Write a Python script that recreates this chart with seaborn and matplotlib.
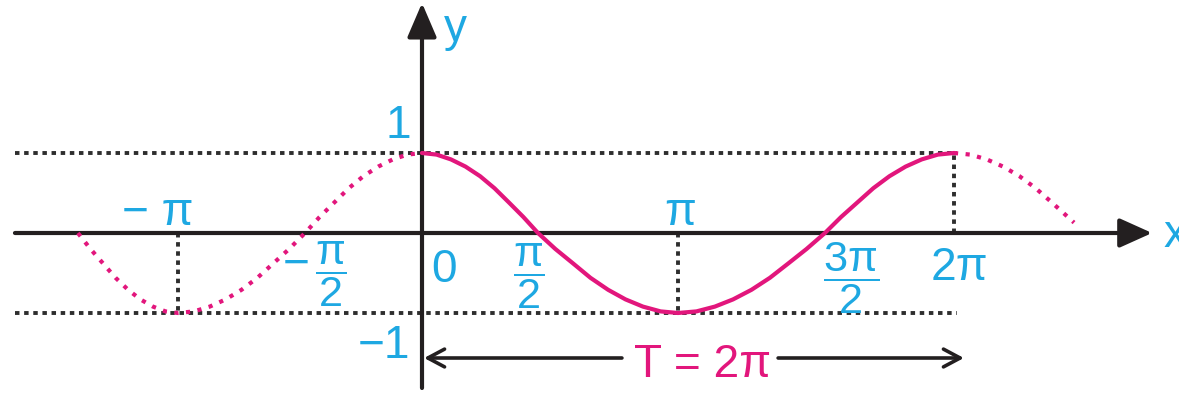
import numpy as np
import pandas as pd
import seaborn as sns
import matplotlib
matplotlib.use("Agg")
import matplotlib.pyplot as plt
from matplotlib import font_manager

# ---- data (x in units of pi) ----
solid_x = [0, .057, .113, .170, .227, .283, .340, .396, .453,
           .521, .590, .658, .727, .795, .863, .932, 1.0,
           1.072, 1.144, 1.215, 1.287, 1.359, 1.431, 1.502, 1.574,
           1.637, 1.700, 1.763, 1.826, 1.889, 1.952, 2.015, 2.078]
solid_y = [1, .98, .92, .83, .71, .56, .38, .20, 0,
           -.20, -.38, -.56, -.71, -.83, -.92, -.98, -1,
           -.98, -.92, -.83, -.71, -.56, -.38, -.20, 0,
           .20, .38, .56, .71, .83, .92, .98, 1]
left_x = [-1.344, -1.295, -1.246, -1.197, -1.148, -1.100, -1.051, -1.002, -0.953,
          -0.891, -0.829, -0.767, -0.705, -0.643, -0.581, -0.519, -0.457,
          -0.400, -0.343, -0.286, -0.229, -0.171, -0.114, -0.057, 0]
left_y = [0, -.20, -.38, -.56, -.71, -.83, -.92, -.98, -1,
          -.98, -.92, -.83, -.71, -.56, -.38, -.20, 0,
          .20, .38, .56, .71, .83, .92, .98, 1]
right_x = [2.078, 2.142, 2.206, 2.270, 2.334, 2.397, 2.461, 2.547]
right_y = [1, .98, .92, .83, .71, .56, .38, .13]

guide_levels = [1, -1]
guide_span = [-1.590, 2.090]
drop_x = [-0.953, 1.0, 2.078]
drop_y = [-1, -1, 1]
period_span = [0.008, 2.117]
period_level = -1.5625
period_label = "T = 2π"
tick_labels = ["− π", "π", "0", "2π"]
frac_labels = [r"$\dfrac{\pi}{2}$", r"$\dfrac{\pi}{2}$", r"$\dfrac{3\pi}{2}$"]
y_tick_labels = ["1", "−1"]

# ---- style ----
sns.set_theme(style="white")
fam = "Liberation Sans"
try:
    font_manager.findfont("Liberation Sans Narrow", fallback_to_default=False)
    fam = "Liberation Sans Narrow"
    narrow = True
except Exception:
    narrow = False
plt.rcParams["font.family"] = [fam, "DejaVu Sans"]
plt.rcParams["mathtext.fontset"] = "custom"
plt.rcParams["mathtext.rm"] = fam
plt.rcParams["mathtext.it"] = fam
plt.rcParams["mathtext.bf"] = fam

PINK = "#e2167c"
BLUE = "#1ea8e2"
INK = "#231f20"
k = 1.0 if narrow else 0.92

fig = plt.figure(figsize=(11.79, 3.94), dpi=100)
ax = fig.add_axes([0, 0, 1, 1])
ax.set_xlim(-422 / 256, 757 / 256)
ax.set_ylim(-161 / 80, 233 / 80)
ax.axis("off")

# guide lines
for lv in guide_levels:
    ax.plot(guide_span, [lv, lv], color="#2e2e2e", lw=2.8,
            linestyle=(0, (1.15, 1.2)), zorder=1)
for xv, yv in zip(drop_x, drop_y):
    ax.plot([xv, xv], [0, yv], color="#2e2e2e", lw=2.8,
            linestyle=(0, (1.15, 1.2)), zorder=1)

# axes with arrows
ax.annotate("", xy=(2.852, 0), xytext=(-1.590, 0),
            arrowprops=dict(arrowstyle="-|>,head_length=1.0,head_width=0.45",
                            lw=3.0, color=INK, mutation_scale=20,
                            shrinkA=0, shrinkB=0), zorder=2)
ax.annotate("", xy=(0, 2.875), xytext=(0, -1.9375),
            arrowprops=dict(arrowstyle="-|>,head_length=1.05,head_width=0.45",
                            lw=3.0, color=INK, mutation_scale=20,
                            shrinkA=0, shrinkB=0), zorder=2)

# curves
sns.lineplot(x=solid_x, y=solid_y, ax=ax, sort=False, estimator=None,
             color=PINK, lw=3.0, zorder=3)
sns.lineplot(x=left_x, y=left_y, ax=ax, sort=False, estimator=None,
             color=PINK, lw=3.0, linestyle=(0, (1.0, 1.8)), zorder=3)
sns.lineplot(x=right_x, y=right_y, ax=ax, sort=False, estimator=None,
             color=PINK, lw=3.0, linestyle=(0, (1.0, 1.8)), zorder=3)

# period arrow
mid = 1.094
for tip, start in [(period_span[0], 0.781), (period_span[1], 1.391)]:
    ax.annotate("", xy=(tip, period_level), xytext=(start, period_level),
                arrowprops=dict(arrowstyle="->,head_length=0.75,head_width=0.4",
                                lw=2.6, color=INK, mutation_scale=16,
                                shrinkA=0, shrinkB=0))
ax.text(mid, -1.80, period_label, color=PINK, fontsize=36 * k,
        ha="center", va="baseline")

# tick labels
fs = 36 * k
ax.text(-1.031, 0.10, tick_labels[0], color=BLUE, fontsize=fs, ha="center", va="baseline")
ax.text(1.008, 0.10, tick_labels[1], color=BLUE, fontsize=fs, ha="center", va="baseline")
ax.text(0.086, -0.6125, tick_labels[2], color=BLUE, fontsize=fs, ha="center", va="baseline")
ax.text(2.098, -0.5875, tick_labels[3], color=BLUE, fontsize=fs, ha="center", va="baseline")
ffs = 34 * k
ax.text(-0.492, -0.40, "−", color=BLUE, fontsize=fs, ha="center", va="center")
ax.text(-0.355, -0.52, frac_labels[0], color=BLUE, fontsize=ffs, ha="center", va="center")
ax.text(0.418, -0.54, frac_labels[1], color=BLUE, fontsize=ffs, ha="center", va="center")
ax.text(1.676, -0.57, frac_labels[2], color=BLUE, fontsize=ffs, ha="center", va="center")
ax.text(-0.094, 1.1875, y_tick_labels[0], color=BLUE, fontsize=fs, ha="center", va="baseline")
ax.text(-0.148, -1.5625, y_tick_labels[1], color=BLUE, fontsize=fs, ha="center", va="baseline")

ax.text(2.895, -0.175, "x", color=BLUE, fontsize=fs, ha="left", va="baseline")
ax.text(0.129, 2.40, "y", color=BLUE, fontsize=fs, ha="center", va="baseline")

fig.savefig("out.png", dpi=100)
